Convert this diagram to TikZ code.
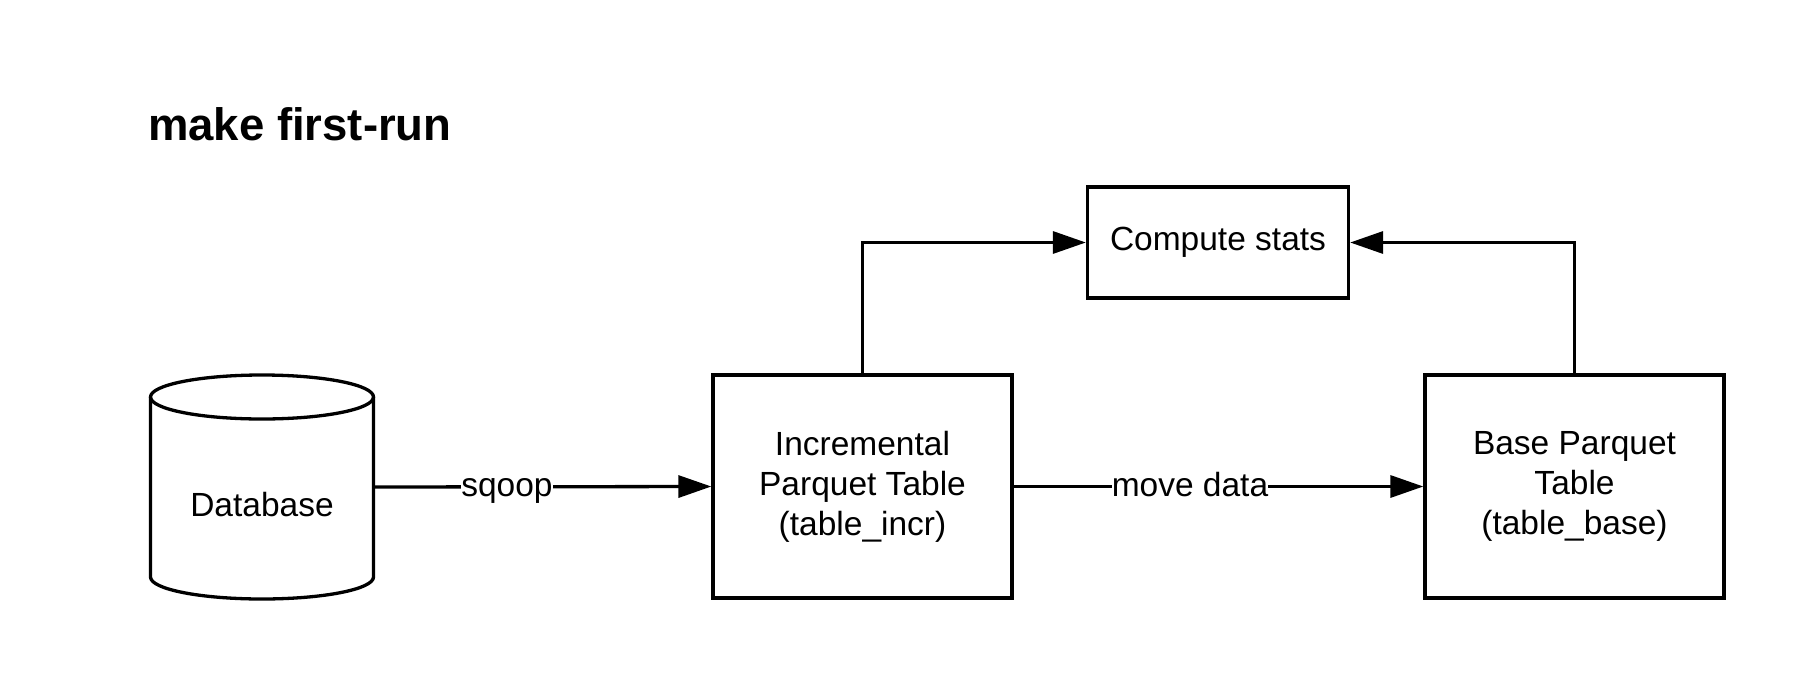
\documentclass[tikz,border=0pt]{standalone}
\usepackage{fontspec}
\setmainfont{Liberation Sans}
\usetikzlibrary{arrows.meta}
\begin{document}
\begin{tikzpicture}[x=1pt,y=-1pt,
  lbl/.style={font=\fontsize{33.5}{40}\selectfont},
  boxnode/.style={draw, line width=3.3pt, minimum width=299pt, minimum height=223pt, align=center, inner sep=0pt, lbl},
  csnode/.style={draw, line width=3.3pt, minimum width=261pt, minimum height=111pt, inner sep=0pt, lbl},
  conn/.style={line width=3.3pt, -{Triangle[length=33pt, width=22pt]}},
  edgelbl/.style={fill=white, inner sep=0pt, anchor=base, lbl},
  dbshape/.style={line width=3.3pt}]
\useasboundingbox (0,0) rectangle (1800,675);
\fill[white] (0,0) rectangle (1800,675);

\node[anchor=base west, inner sep=0pt, font=\bfseries\fontsize{45.5}{54}\selectfont] (title) at (148,140) {make first-run};

% database cylinder
\node[minimum width=223pt, minimum height=226pt, inner sep=0pt] (db) at (262,487) {};
\draw[dbshape] (150.5,397) -- (150.5,577) arc[start angle=180, end angle=360, x radius=111.5, y radius=-22] -- (373.5,397);
\draw[dbshape] (262,397) ellipse[x radius=111.5, y radius=22];
\node[lbl] (dblabel) at (262,505) {Database};

\node[boxnode] (incr) at (862.5,486.5) {Incremental\\Parquet Table\\(table\_incr)};
\node[boxnode] (base) at (1574.5,486.5) {Base Parquet\\Table\\(table\_base)};
\node[csnode] (cs) at (1218,242.5) {Compute stats};

\draw[conn] (db.east) -- (incr.west);
\node[edgelbl] (sqooplbl) at (507,496) {sqoop};
\draw[conn] (incr.east) -- (base.west);
\node[edgelbl] (movelbl) at (1190,496) {move data};
\draw[conn] (incr.north) |- (cs.west);
\draw[conn] (base.north) |- (cs.east);
\end{tikzpicture}
\end{document}
